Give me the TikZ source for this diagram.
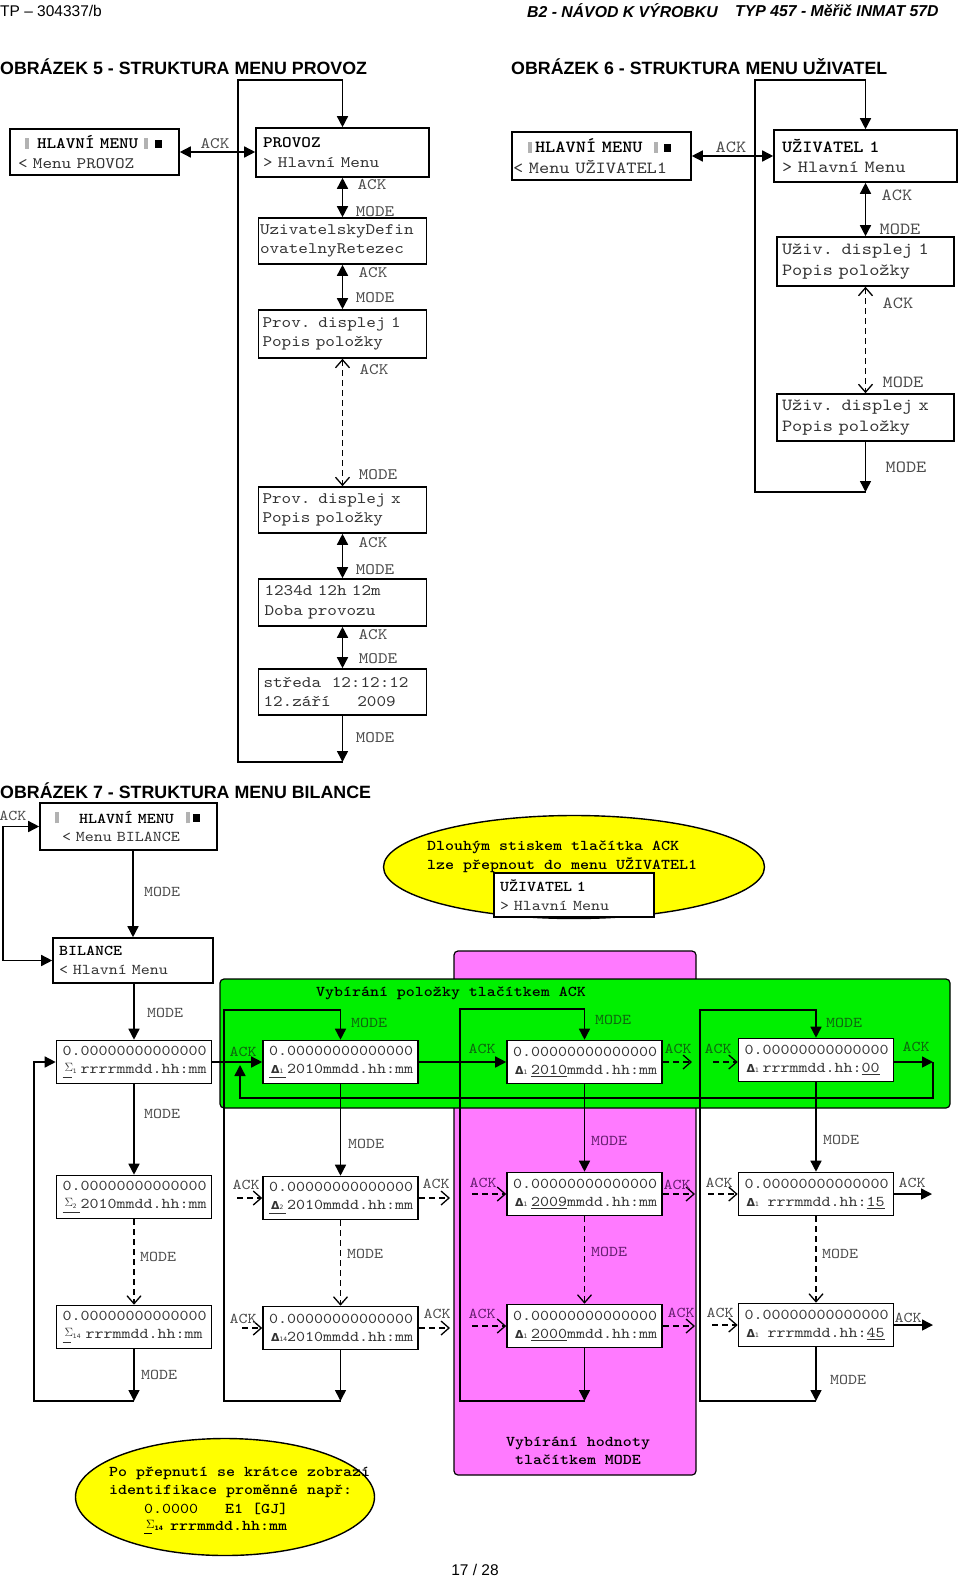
\documentclass[tikz,border=0pt]{standalone}
\usepackage{fontspec}
\setmainfont{Liberation Sans}
\newfontfamily\lcd{lmmono10-regular.otf}[BoldFont=lmmonolt10-bold.otf,FakeStretch=1.1429]
\newfontfamily\dv{DejaVu Sans}
\usetikzlibrary{arrows.meta,shapes.geometric}
\definecolor{txtg}{gray}{0.2}
\definecolor{lblg}{gray}{0.3}
\definecolor{grn}{RGB}{0,240,0}
\definecolor{mag}{RGB}{255,122,255}
\definecolor{ylw}{RGB}{255,255,0}
\definecolor{lblgrn}{RGB}{15,100,15}
\definecolor{lblmag}{RGB}{100,30,110}
\newcommand\setsp{\fontdimen2\font=0.6em\fontdimen3\font=0pt\fontdimen4\font=0pt}
\newcommand\FA{\lcd\fontsize{16}{19.5}\selectfont\setsp}
\newcommand\FB{\lcd\fontsize{17}{20.5}\selectfont\setsp}
\newcommand\FC{\lcd\fontsize{15}{18.5}\selectfont\setsp}
\newcommand\bt[1]{\textcolor{black}{\bfseries\setsp #1}}
\newcommand\gbar{\textcolor{black!30}{\rule{4pt}{11pt}}}
\newcommand\bsq{\textcolor{black}{\rule[1pt]{7pt}{8pt}}}
\newcommand\ulr[1]{\makebox[0pt][l]{\raisebox{-4pt}{\rule{#1}{1pt}}}}
\newcommand\Dl[2][18pt]{\makebox[#1][l]{\hspace*{2pt}{\dv\bfseries\fontsize{11}{11}\selectfont Δ}{\dv\fontsize{6}{6}\selectfont #2}}}
\newcommand\Sg[2][18pt]{\makebox[#1][l]{\hspace*{2pt}\raisebox{2pt}{\fontsize{12}{12}\selectfont$\Sigma$}{\dv\fontsize{6}{6}\selectfont #2}}}
\newcommand\zs{0000000}
\newcommand\zr{0.\zs\zs}
\tikzset{
  lcdbox/.style={draw, line width=1.6pt, fill=white, align=left, inner ysep=0pt, text=txtg},
  gbox/.style={lcdbox, font=\FC, inner xsep=6pt, text width=143pt, minimum height=43pt},
  lA/.style={font=\FA, text=lblg, inner sep=0pt},
  lB/.style={font=\FB, text=lblg, inner sep=0pt},
  lC/.style={font=\FC, text=lblg, inner sep=0pt},
  lCg/.style={font=\FC, text=lblgrn, inner sep=0pt},
  lCm/.style={font=\FC, text=lblmag, inner sep=0pt},
  note/.style={font={\FC\bfseries\setsp}, text=black, inner sep=0pt, anchor=west},
  aone/.style={line width=1.5pt, -{Triangle[length=11pt,width=11pt]}},
  atwo/.style={line width=1.5pt, {Triangle[length=11pt,width=11pt]}-{Triangle[length=11pt,width=11pt]}},
  oone/.style={line width=1.3pt, dash pattern=on 6pt off 4pt, -{Straight Barb[length=8pt,width=14pt]}},
  otwo/.style={line width=1.3pt, dash pattern=on 6pt off 4pt, {Straight Barb[length=8pt,width=14pt]}-{Straight Barb[length=8pt,width=14pt]}}
}
\begin{document}
\begin{tikzpicture}[x=1pt,y=-1pt]
\useasboundingbox (0,0) rectangle (960,1578);
% ---------- header and titles
\node[anchor=west, font=\fontsize{15.5}{18}\selectfont, inner sep=0pt] (hdrL) at (0,11) {TP – 304337/b};
\node[anchor=west, font=\fontsize{15.8}{18}\selectfont\bfseries\itshape, inner sep=0pt] (hdrR1) at (527,11) {B2 - NÁVOD K VÝROBKU};
\node[anchor=west, font=\fontsize{15.8}{18}\selectfont\bfseries\itshape, inner sep=0pt] (hdrR2) at (735,11) {TYP 457 - Měřič INMAT 57D};
\node[anchor=west, font=\fontsize{17.8}{21}\selectfont\bfseries, inner sep=0pt] (t5) at (0,67) {OBRÁZEK 5 - STRUKTURA MENU PROVOZ};
\node[anchor=west, font=\fontsize{17.8}{21}\selectfont\bfseries, inner sep=0pt] (t6) at (511,67) {OBRÁZEK 6 - STRUKTURA MENU UŽIVATEL};
\node[anchor=west, font=\fontsize{17.8}{21}\selectfont\bfseries, inner sep=0pt] (t7) at (0,791) {OBRÁZEK 7 - STRUKTURA MENU BILANCE};
\node[font=\fontsize{15.5}{18}\selectfont, inner sep=0pt] (pg) at (475,1570) {17 / 28};

% ---------- Figure 5
\node[lcdbox, font=\FA, inner xsep=0pt, text width=169pt, minimum height=46pt] (H5) at (94.5,152)
 {\hspace*{15pt}\gbar\hspace*{8pt}\bt{HLAVNÍ MENU}\hspace*{6pt}\gbar\hspace*{7pt}\bsq\\\hspace*{8pt}< Menu PROVOZ};
\node[lcdbox, font=\FA, inner xsep=7pt, text width=159pt, minimum height=49pt] (P5) at (342.5,152.5)
 {\bt{PROVOZ}\\> Hlavní Menu};
\node[lcdbox, font=\FA, inner xsep=1.5pt, text width=165pt, minimum height=46pt] (U5) at (342.5,241)
 {UzivatelskyDefin\\ovatelnyRetezec};
\node[lcdbox, font=\FA, inner xsep=4pt, text width=160pt, minimum height=48pt] (D51) at (342.5,334)
 {Prov. displej 1\\Popis položky};
\node[lcdbox, font=\FA, inner xsep=4pt, text width=160pt, minimum height=46pt] (D5x) at (342.5,510)
 {Prov. displej x\\Popis položky};
\node[lcdbox, font=\FA, inner xsep=6pt, text width=156pt, minimum height=47pt] (T5) at (342.5,602.5)
 {1234d 12h 12m\\Doba provozu};
\node[lcdbox, font=\FA, inner xsep=5pt, text width=158pt, minimum height=46pt] (S5) at (342.5,692)
 {středa\ \ 12:12:12\\12.září\ \ \ \ \ 2009};
\coordinate (c5a) at (342.5,762);
\coordinate (c5b) at (238,762);
\coordinate (c5c) at (238,80);
\coordinate (c5d) at (342.5,80);
\draw[atwo] (H5.east) -- (H5.east -| P5.west);
\draw[atwo] (P5.south) -- (U5.north);
\draw[atwo] (U5.south) -- (D51.north);
\draw[otwo] (D51.south) -- (D5x.north);
\draw[atwo] (D5x.south) -- (T5.north);
\draw[atwo] (T5.south) -- (S5.north);
\draw[aone] (S5.south) -- (c5a);
\draw[aone] (c5a) -- (c5b) -- (c5c) -- (c5d) -- (P5.north);
\node[lA] (l5a) at (215,144) {ACK};
\node[lA] (l5b) at (372,185) {ACK};
\node[lA] (l5c) at (375,212) {MODE};
\node[lA] (l5d) at (373,273) {ACK};
\node[lA] (l5e) at (375,298) {MODE};
\node[lA] (l5f) at (374,370) {ACK};
\node[lA] (l5g) at (378,475) {MODE};
\node[lA] (l5h) at (373,543) {ACK};
\node[lA] (l5i) at (375,570) {MODE};
\node[lA] (l5j) at (373,635) {ACK};
\node[lA] (l5k) at (378,659) {MODE};
\node[lA] (l5l) at (375,738) {MODE};

% ---------- Figure 6
\node[lcdbox, font=\FB, inner xsep=0pt, text width=179pt, minimum height=48pt] (H6) at (601.5,156)
 {\hspace*{16pt}\gbar\hspace*{3pt}\bt{HLAVNÍ MENU}\hspace*{11pt}\gbar\hspace*{6pt}\bsq\\\hspace*{1pt}< Menu UŽIVATEL1};
\node[lcdbox, font=\FB, inner xsep=8pt, text width=167pt, minimum height=52pt] (U6) at (865.5,156)
 {\bt{UŽIVATEL 1}\\> Hlavní Menu};
\node[lcdbox, font=\FB, inner xsep=5pt, text width=167pt, minimum height=49pt] (D61) at (865.5,261.5)
 {Uživ. displej 1\\Popis položky};
\node[lcdbox, font=\FB, inner xsep=5pt, text width=167pt, minimum height=47pt] (D6x) at (865.5,417.5)
 {Uživ. displej x\\Popis položky};
\coordinate (c6a) at (865.5,492);
\coordinate (c6b) at (755,492);
\coordinate (c6c) at (755,80);
\coordinate (c6d) at (865.5,80);
\draw[atwo] (H6.east) -- (H6.east -| U6.west);
\draw[atwo] (U6.south) -- (D61.north);
\draw[otwo] (D61.south) -- (D6x.north);
\draw[aone] (D6x.south) -- (c6a);
\draw[aone] (c6a) -- (c6b) -- (c6c) -- (c6d) -- (U6.north);
\node[lB] (l6a) at (731,147) {ACK};
\node[lB] (l6b) at (897,195) {ACK};
\node[lB] (l6c) at (900,229) {MODE};
\node[lB] (l6d) at (898,303) {ACK};
\node[lB] (l6e) at (903,382) {MODE};
\node[lB] (l6f) at (906,467) {MODE};

% ---------- Figure 7 backgrounds
\node[draw, fill=mag, rounded corners=4pt, line width=1.2pt, minimum width=242pt, minimum height=524pt, inner sep=0pt] (Mg) at (575,1213) {};
\node[draw, fill=grn, rounded corners=4pt, line width=1.2pt, minimum width=730pt, minimum height=129pt, inner sep=0pt] (Gr) at (585,1043.5) {};
\node[draw, fill=ylw, ellipse, line width=1.4pt, minimum width=381pt, minimum height=103pt, inner sep=0pt] (E1) at (574,867) {};
\node[draw, fill=ylw, ellipse, line width=1.4pt, minimum width=299pt, minimum height=117pt, inner sep=0pt] (E2) at (225,1497) {};

% ---------- Figure 7 top
\node[lcdbox, font=\FC, inner xsep=0pt, text width=177pt, minimum height=47pt] (H7) at (128.5,826.5)
 {\hspace*{15pt}\gbar\hspace*{20pt}\bt{HLAVNÍ MENU}\hspace*{12pt}\gbar\hspace*{3pt}\bsq\\\hspace*{22pt}< Menu BILANCE};
\node[lcdbox, font=\FC, inner xsep=6pt, text width=148pt, minimum height=45pt] (B7) at (133,960.5)
 {\bt{BILANCE}\\< Hlavní Menu};
\node[note] (e1a) at (427,847) {Dlouhým stiskem tlačítka ACK};
\node[note] (e1b) at (427,865) {lze přepnout do menu UŽIVATEL1};
\node[lcdbox, font=\FC, inner xsep=6pt, text width=148pt, minimum height=44pt] (U7) at (574,895)
 {\bt{UŽIVATEL 1}\\> Hlavní Menu};
\coordinate (l7a) at (3,826.5);
\coordinate (l7b) at (3,960.5);
\draw[atwo] (H7.west) -- (l7a) -- (l7b) -- (B7.west);
\draw[aone] (H7.south -| B7.north) -- (B7.north);
\node[lC] (l7c) at (13,816) {ACK};
\node[lC] (l7d) at (162,892) {MODE};

\node[font={\FC\bfseries\setsp}, inner sep=0pt] (gt) at (451,993) {Vybírání položky tlačítkem ACK};
\node[font={\FC\bfseries\setsp}, inner sep=0pt, align=center] (mt) at (578,1451) {Vybírání hodnoty\\tlačítkem MODE};

% ---------- grid boxes
\node[gbox] (c1r1) at (134,1062) {\zr\\\ulr{9pt}\Sg{1}rrrrmmdd.hh:mm};
\node[gbox] (c2r1) at (340.5,1062) {\zr\\\ulr{17pt}\Dl{1}2010mmdd.hh:mm};
\node[gbox] (c3r1) at (584.5,1062) {\zr\\\Dl{1}\underline{2010}mmdd.hh:mm};
\node[gbox] (c4r1) at (816,1060) {\zr\\\Dl{1}rrrmmdd.hh:\underline{00}};
\node[gbox] (c1r2) at (134,1197) {\zr\\\ulr{17pt}\Sg{2}2010mmdd.hh:mm};
\node[gbox] (c2r2) at (340.5,1198) {\zr\\\ulr{17pt}\Dl{2}2010mmdd.hh:mm};
\node[gbox] (c3r2) at (584.5,1194) {\zr\\\Dl{1}\underline{2009}mmdd.hh:mm};
\node[gbox] (c4r2) at (816,1194) {\zr\\\Dl{1}\ rrrmmdd.hh:\underline{15}};
\node[gbox] (c1r3) at (134,1327) {\zr\\\ulr{8pt}\Sg{14}\ rrrmmdd.hh:mm};
\node[gbox] (c2r3) at (340.5,1328) {\zr\\\Dl{14}2010mmdd.hh:mm};
\node[gbox] (c3r3) at (584.5,1326) {\zr\\\Dl{1}\underline{2000}mmdd.hh:mm};
\node[gbox] (c4r3) at (816,1325) {\zr\\\Dl{1}\ rrrmmdd.hh:\underline{45}};

% loop coordinates
\coordinate (b1) at (134,1401);   \coordinate (b1l) at (34,1401);  \coordinate (b1t) at (34,1062);
\coordinate (b2) at (340.5,1401); \coordinate (b2l) at (224,1401); \coordinate (b2t) at (224,1010); \coordinate (b2r) at (340.5,1010);
\coordinate (b3) at (584.5,1401); \coordinate (b3l) at (460,1401); \coordinate (b3t) at (460,1009); \coordinate (b3r) at (584.5,1009);
\coordinate (b4) at (816,1401);   \coordinate (b4l) at (700,1401); \coordinate (b4t) at (700,1010); \coordinate (b4r) at (816,1010);

\draw[aone] (B7.south -| c1r1.north) -- (c1r1.north);
% column 1
\draw[aone] (c1r1.south) -- (c1r2.north);
\draw[oone] (c1r2.south) -- (c1r3.north);
\draw[aone] (c1r3.south) -- (b1);
\draw[aone] (b1) -- (b1l) -- (b1t) -- (b1t -| c1r1.west);
% column 2
\draw[aone] (c2r1.south) -- (c2r2.north);
\draw[oone] (c2r2.south) -- (c2r3.north);
\draw[aone] (c2r3.south) -- (b2);
\draw[aone] (b2) -- (b2l) -- (b2t) -- (b2r) -- (c2r1.north);
% column 3
\draw[aone] (c3r1.south) -- (c3r2.north);
\draw[oone] (c3r2.south) -- (c3r3.north);
\draw[aone] (c3r3.south) -- (b3);
\draw[aone] (b3) -- (b3l) -- (b3t) -- (b3r) -- (c3r1.north);
% column 4
\draw[aone] (c4r1.south) -- (c4r2.north);
\draw[oone] (c4r2.south) -- (c4r3.north);
\draw[aone] (c4r3.south) -- (b4);
\draw[aone] (b4) -- (b4l) -- (b4t) -- (b4r) -- (c4r1.north);

% row 1
\coordinate (r1a) at (692,1062); \coordinate (r1b) at (713,1062);
\coordinate (r1c) at (933,1062); \coordinate (r1d) at (933,1098);
\coordinate (r1e) at (240,1098); \coordinate (r1f) at (240,1065);
\draw[aone] (c1r1.east) -- (c2r1.west);
\draw[aone] (c2r1.east) -- (c2r1.east -| c3r1.west);
\draw[oone] (c3r1.east) -- (r1a);
\draw[oone] (r1b) -- (r1b -| c4r1.west);
\draw[aone] (c4r1.east |- r1c) -- (r1c);
\draw[aone] (r1c) -- (r1d) -- (r1e) -- (r1f);
% row 2
\coordinate (r2a) at (237,1198); \coordinate (r2b) at (450,1198);
\coordinate (r2c) at (472,1194); \coordinate (r2d) at (695,1194);
\coordinate (r2e) at (708,1194); \coordinate (r2f) at (932,1194);
\draw[oone] (r2a) -- (c2r2.west);
\draw[oone] (c2r2.east) -- (r2b);
\draw[oone] (r2c) -- (c3r2.west);
\draw[oone] (c3r2.east) -- (r2d);
\draw[oone] (r2e) -- (c4r2.west);
\draw[aone] (c4r2.east) -- (r2f);
% row 3
\coordinate (r3a) at (242,1328); \coordinate (r3b) at (450,1328);
\coordinate (r3c) at (472,1326); \coordinate (r3d) at (695,1326);
\coordinate (r3e) at (712,1325); \coordinate (r3f) at (933,1325);
\draw[oone] (r3a) -- (c2r3.west);
\draw[oone] (c2r3.east) -- (r3b);
\draw[oone] (r3c) -- (c3r3.west);
\draw[oone] (c3r3.east) -- (r3d);
\draw[oone] (r3e) -- (c4r3.west);
\draw[aone] (c4r3.east) -- (r3f);

% labels fig 7
\node[lC] (m0) at (165,1013) {MODE};
\node[lC] (m11) at (162,1114) {MODE};
\node[lC] (m12) at (158,1257) {MODE};
\node[lC] (m13) at (159,1375) {MODE};
\node[lCg] (m20) at (369,1023) {MODE};
\node[lC] (m21) at (366,1144) {MODE};
\node[lC] (m22) at (365,1254) {MODE};
\node[lCg] (m30) at (613,1020) {MODE};
\node[lCm] (m31) at (609,1141) {MODE};
\node[lCm] (m32) at (609,1252) {MODE};
\node[lCg] (m40) at (844,1023) {MODE};
\node[lC] (m41) at (841,1140) {MODE};
\node[lC] (m42) at (840,1254) {MODE};
\node[lC] (m43) at (848,1380) {MODE};
\node[lCg] (k11) at (243,1052) {ACK};
\node[lCg] (k12) at (482,1049) {ACK};
\node[lCg] (k13) at (678,1049) {ACK};
\node[lCg] (k14) at (718,1049) {ACK};
\node[lCg] (k15) at (916,1047) {ACK};
\node[lC] (k21) at (246,1185) {ACK};
\node[lC] (k22) at (436,1184) {ACK};
\node[lCm] (k23) at (483,1183) {ACK};
\node[lCm] (k24) at (677,1185) {ACK};
\node[lC] (k25) at (719,1183) {ACK};
\node[lC] (k26) at (912,1183) {ACK};
\node[lC] (k31) at (243,1319) {ACK};
\node[lC] (k32) at (437,1314) {ACK};
\node[lCm] (k33) at (482,1314) {ACK};
\node[lCm] (k34) at (681,1313) {ACK};
\node[lC] (k35) at (720,1313) {ACK};
\node[lC] (k36) at (908,1318) {ACK};

% ellipse 2 text
\node[note] (e2a) at (109,1473) {Po přepnutí se krátce zobrazí};
\node[note] (e2b) at (109,1491) {identifikace proměnné např:};
\node[note] (e2c) at (144,1509) {{\mdseries\setsp 0.0000}\ \ \ E1 [GJ]};
\node[note] (e2d) at (144,1527) {\ulr{8pt}\Sg[26pt]{14}rrrmmdd.hh:mm};
\end{tikzpicture}
\end{document}
